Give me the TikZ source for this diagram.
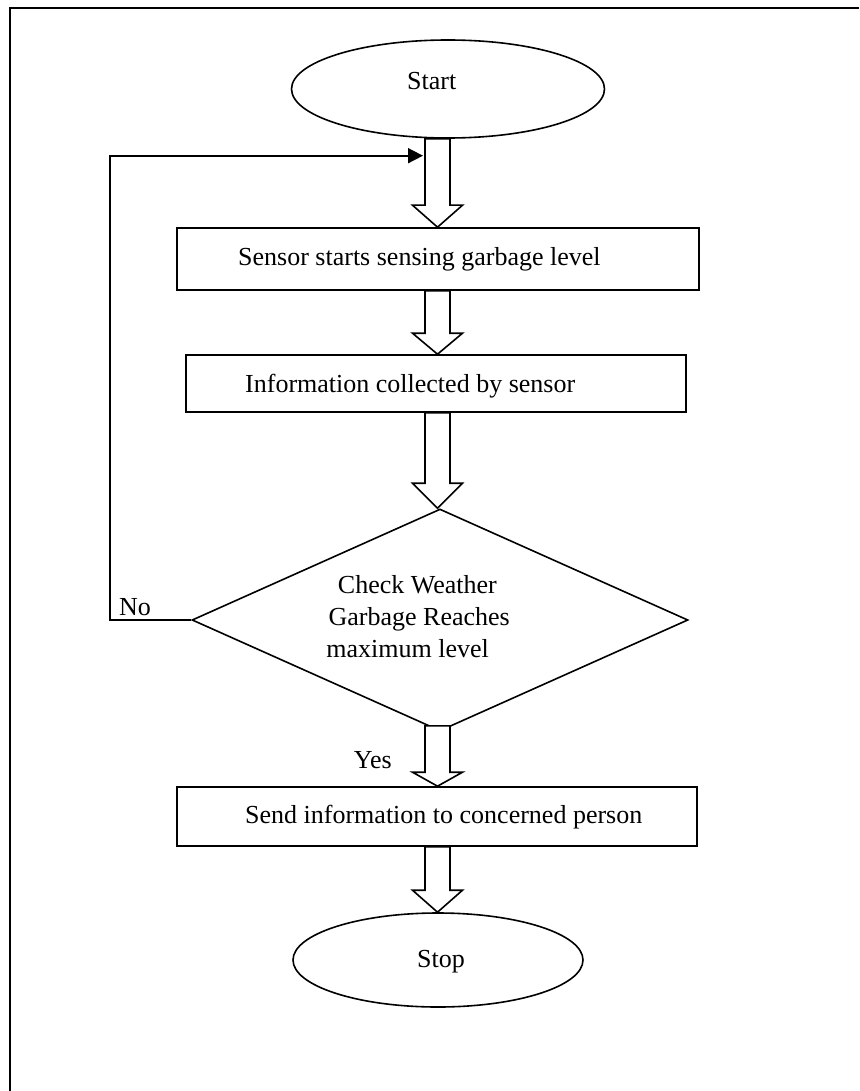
\documentclass[tikz,border=0pt]{standalone}
\usepackage{fontspec}
\setmainfont{Liberation Serif}
\usetikzlibrary{shapes.geometric,arrows.meta,calc}
\newcommand\blockarr[3]{\draw[blk] let \p1=(#1), \p2=(#2) in (\x1-12.5pt,\y1) -- (\x1-12.5pt,\y2+#3pt) -- (\x1-25pt,\y2+#3pt) -- (\x1,\y2) -- (\x1+25pt,\y2+#3pt) -- (\x1+12.5pt,\y2+#3pt) -- (\x1+12.5pt,\y1) -- cycle;}
\begin{document}
\begin{tikzpicture}[x=1pt,y=-1pt,
 shapeline/.style={draw=black, line width=1.6pt},
 ov/.style={shapeline, ellipse, inner sep=0pt},
 box/.style={shapeline, rectangle, inner sep=0pt},
 dia/.style={shapeline, diamond, inner sep=0pt},
 txt/.style={font=\fontsize{26}{32}\selectfont, inner sep=0pt},
 blk/.style={draw=black, line width=1.6pt, fill=white, line join=miter},
 fb/.style={draw=black, line width=1.7pt, -{Triangle[length=15pt,width=15pt]}},
 frame/.style={draw=black, line width=2.8pt}]
\useasboundingbox (0,0) rectangle (859,1091);
\draw[frame] (10,1091) -- (10,8) -- (859,8);
% nodes
\node[ov, minimum width=313pt, minimum height=98pt] (start) at (448,89) {};
\node[txt, anchor=base west] (tstart) at (407,90) {Start};
\node[box, minimum width=522pt, minimum height=62pt] (r1) at (438,259) {};
\node[txt, anchor=base west] (t1) at (238,265) {Sensor starts sensing garbage level};
\node[box, minimum width=500pt, minimum height=57pt] (r2) at (436,383.5) {};
\node[txt, anchor=base west] (t2) at (245,392) {Information collected by sensor};
\node[dia, minimum width=496pt, minimum height=222pt] (d) at (440,620) {};
\node[txt, anchor=base east] (td1) at (497,593) {Check Weather};
\node[txt, anchor=base east] (td2) at (510,625) {Garbage Reaches};
\node[txt, anchor=base east] (td3) at (489,657) {maximum level};
\node[box, minimum width=520pt, minimum height=59pt] (r3) at (437,816.5) {};
\node[txt, anchor=base west] (t3) at (245,823) {Send information to concerned person};
\node[ov, minimum width=290pt, minimum height=94pt] (stop) at (438,960) {};
\node[txt, anchor=base west] (tstop) at (417,967) {Stop};
\node[txt, anchor=base west] (no) at (119,615) {No};
\node[txt, anchor=base east] (yes) at (392,768) {Yes};
% connectors
\coordinate (ax) at (437.5,0);
\blockarr{start.south -| ax}{r1.north -| ax}{22}
\blockarr{r1.south -| ax}{r2.north -| ax}{21}
\blockarr{r2.south -| ax}{d.north -| ax}{25}
\blockarr{$(d.south -| ax)+(0,-6)$}{r3.north -| ax}{14}
\blockarr{r3.south -| ax}{stop.north -| ax}{22}
\coordinate (fbx) at (110,0);
\coordinate (fbtip) at (423,155.7);
\draw[fb] (d.west) -- (d.west -| fbx) -- (fbx |- fbtip) -- (fbtip);
\end{tikzpicture}
\end{document}
